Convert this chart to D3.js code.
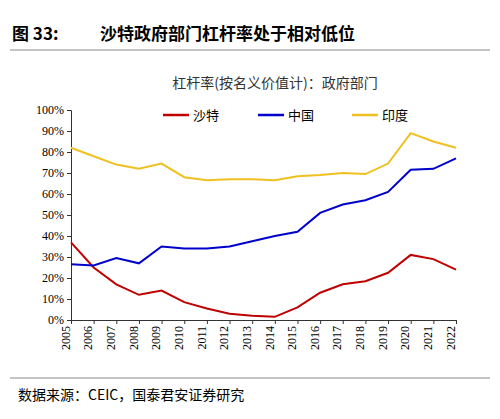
<!DOCTYPE html><html><head><meta charset="utf-8"><script src="https://cdn.jsdelivr.net/npm/d3@7"></script>
<style>body{margin:0;background:#fff}</style></head><body><svg id="c" width="500" height="419"></svg>
<script>
const years=["2005","2006","2007","2008","2009","2010","2011","2012","2013","2014","2015","2016","2017","2018","2019","2020","2021","2022"];
const saudi=[37,25,17,12,14,8.5,5.5,3,2,1.5,6,13,17,18.5,22.5,31,29,24];
const china=[26.5,26,29.5,27,35,34,34,35,37.5,40,42,51,55,57,61,71.5,72,77];
const india=[82,78,74,72,74.5,68,66.5,67,67,66.5,68.5,69,70,69.5,74.5,89,85,82];
const seriesNames=["沙特","中国","印度"];
const colors=["#c00000","#0000cc","#f0c020"];
const yTicks=[0,10,20,30,40,50,60,70,80,90,100];
const svg=d3.select("#c");
const font="'Noto Sans CJK SC', serif";
svg.append("text").attr("x",12).attr("y",40).attr("font-size",17).attr("font-weight","bold").attr("font-family",font).text("图 33:");
svg.append("text").attr("x",100).attr("y",40).attr("font-size",17).attr("font-weight","bold").attr("font-family",font).text("沙特政府部门杠杆率处于相对低位");
svg.append("line").attr("x1",10).attr("x2",490).attr("y1",50).attr("y2",50).attr("stroke","#888");
svg.append("text").attr("x",275).attr("y",88).attr("text-anchor","middle").attr("font-size",14).attr("font-family",font).attr("fill","#333").text("杠杆率(按名义价值计)：政府部门");
const x=d3.scalePoint().domain(years).range([71,456]);
const y=d3.scaleLinear().domain([0,100]).range([320,110]);
const ax=svg.append("g").attr("transform","translate(0,320)").call(d3.axisBottom(x).tickSize(4));
ax.selectAll("text").attr("transform","rotate(-90)").attr("x",-6).attr("y",-6).attr("dy","0.35em").style("text-anchor","end").attr("font-size",12).attr("font-family","'Liberation Serif',serif");
const ay=svg.append("g").attr("transform","translate(71,0)").call(d3.axisLeft(y).tickValues(yTicks).tickFormat(d=>d+"%").tickSize(4));
ay.selectAll("text").attr("font-size",12).attr("font-family","'Liberation Serif',serif");
svg.selectAll(".domain,.tick line").attr("stroke","#333");
const line=d3.line().x((d,i)=>x(years[i])).y(d=>y(d));
[saudi,china,india].forEach((s,k)=>svg.append("path").datum(s).attr("d",line).attr("fill","none").attr("stroke",colors[k]).attr("stroke-width",2));
const lx=[163,258,352];
seriesNames.forEach((n,k)=>{
 svg.append("line").attr("x1",lx[k]).attr("x2",lx[k]+26).attr("y1",115).attr("y2",115).attr("stroke",colors[k]).attr("stroke-width",2.5);
 svg.append("text").attr("x",lx[k]+30).attr("y",120).attr("font-size",13).attr("font-family",font).text(n);
});
svg.append("line").attr("x1",10).attr("x2",490).attr("y1",378).attr("y2",378).attr("stroke","#888");
svg.append("text").attr("x",18).attr("y",400).attr("font-size",14).attr("font-family",font).text("数据来源：CEIC，国泰君安证券研究");
</script></body></html>
